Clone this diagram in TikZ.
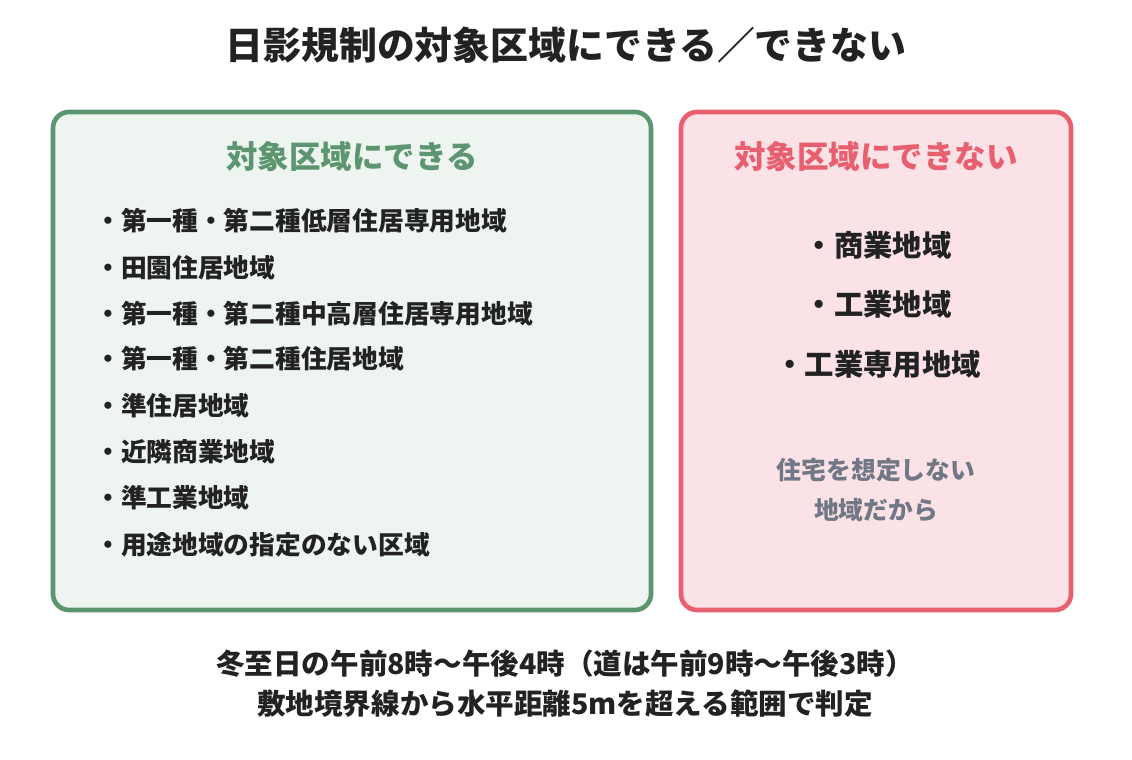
\documentclass[tikz,border=0pt]{standalone}
\usepackage{fontspec}
\setmainfont{Noto Sans CJK JP}
\definecolor{okline}{HTML}{5B9670}
\definecolor{okfill}{HTML}{EEF5F0}
\definecolor{ngline}{HTML}{E8606F}
\definecolor{ngfill}{HTML}{FAE2E6}
\definecolor{graytxt}{HTML}{717784}
\definecolor{darktxt}{HTML}{222222}
\tikzset{
  panel/.style={line width=3.5pt, rounded corners=12pt},
  txt/.style={inner sep=0pt, text=darktxt, font=\bfseries},
  okitem/.style={txt, anchor=west, font=\bfseries\fontsize{19.3}{22}\selectfont},
  ngitem/.style={txt, font=\bfseries\fontsize{22}{25}\selectfont},
  head/.style={inner sep=0pt, font=\bfseries\fontsize{23.6}{28}\selectfont},
  note/.style={inner sep=0pt, text=graytxt, font=\bfseries\fontsize{18.6}{22}\selectfont},
  foot/.style={txt, font=\bfseries\fontsize{21.4}{25}\selectfont}
}
\begin{document}
\begin{tikzpicture}[x=0.75pt,y=-0.75pt]
\useasboundingbox (0,0) rectangle (1132,760);
\fill[white] (0,0) rectangle (1132,760);
\node[txt, font=\bfseries\fontsize{28.4}{32}\selectfont] (title) at (566,45) {日影規制の対象区域にできる／できない};
% left panel
\draw[panel, draw=okline, fill=okfill] (53,112) rectangle (651,610);
\node[head, text=okline] (okhead) at (352,157) {対象区域にできる};
\node[okitem] (o1) at (95,221) {・第一種・第二種低層住居専用地域};
\node[okitem] (o2) at (95,268) {・田園住居地域};
\node[okitem] (o3) at (95,314) {・第一種・第二種中高層住居専用地域};
\node[okitem] (o4) at (95,359) {・第一種・第二種住居地域};
\node[okitem] (o5) at (95,406) {・準住居地域};
\node[okitem] (o6) at (95,452) {・近隣商業地域};
\node[okitem] (o7) at (95,498) {・準工業地域};
\node[okitem] (o8) at (95,545) {・用途地域の指定のない区域};
% right panel
\draw[panel, draw=ngline, fill=ngfill] (681,112) rectangle (1071,610);
\node[head, text=ngline] (nghead) at (876,157) {対象区域にできない};
\node[ngitem] (n1) at (878,245) {・商業地域};
\node[ngitem] (n2) at (878,304) {・工業地域};
\node[ngitem] (n3) at (878,364) {・工業専用地域};
\node[note] (r1) at (876,470) {住宅を想定しない};
\node[note] (r2) at (876,510) {地域だから};
% footer
\node[foot] (f1) at (565,664) {冬至日の午前8時〜午後4時（道は午前9時〜午後3時）};
\node[foot] (f2) at (565,704) {敷地境界線から水平距離5mを超える範囲で判定};
\end{tikzpicture}
\end{document}
